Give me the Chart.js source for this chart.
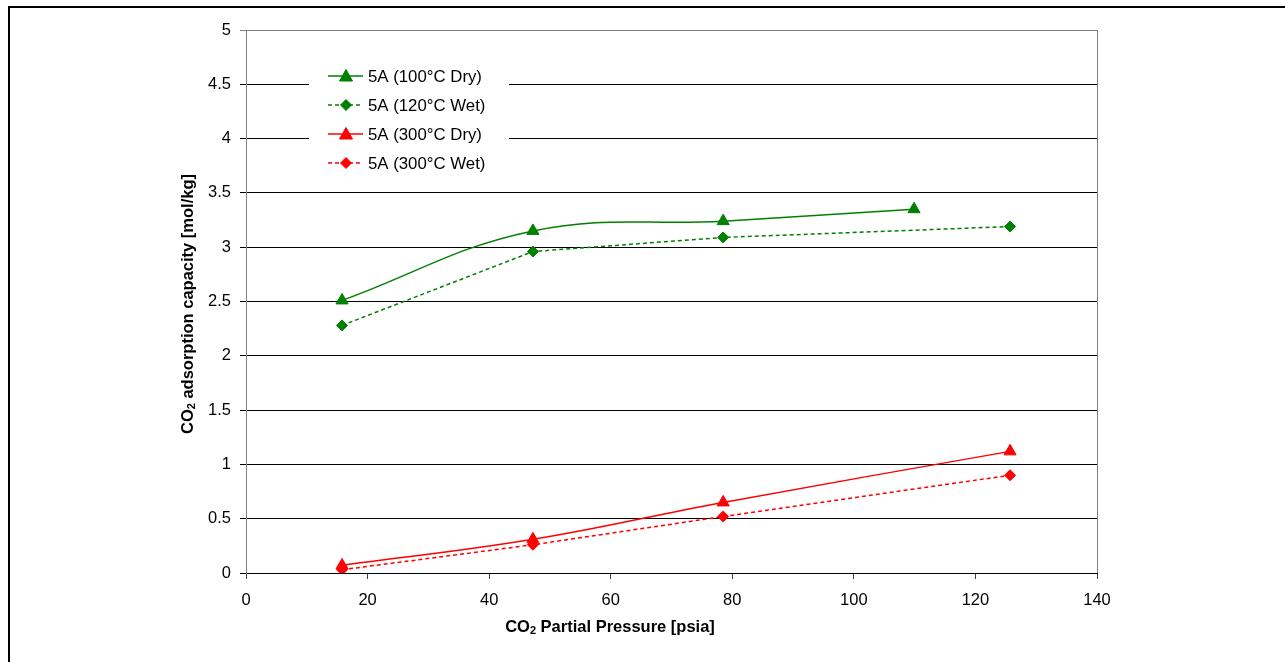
<!DOCTYPE html>
<html>
<head>
<meta charset="utf-8">
<script src="https://cdn.jsdelivr.net/npm/chart.js@4.4.1/dist/chart.umd.min.js"></script>
<style>
  body { margin: 0; background: #fff; }
  #frame { position: absolute; left: 8px; top: 6px; width: 1300px; height: 700px;
           border-left: 2px solid #000; border-top: 2px solid #000; }
  #mychart { position: absolute; left: 0; top: 0; }
</style>
</head>
<body>
<div id="frame"></div>
<canvas id="mychart" width="1285" height="662"></canvas>
<script>
// series labels
var seriesLabels = ['5A (100°C Dry)', '5A (120°C Wet)', '5A (300°C Dry)', '5A (300°C Wet)'];

// CO2 partial pressure [psia]
var pressureDry100 = [15.8, 47.2, 78.5, 109.9];
var pressureWet120 = [15.8, 47.2, 78.5, 125.7];
var pressure300 = [15.8, 47.2, 78.5, 125.7];

// CO2 adsorption capacity [mol/kg]
var capDry100 = [2.51, 3.15, 3.24, 3.35];
var capWet120 = [2.28, 2.96, 3.09, 3.19];
var capDry300 = [0.07, 0.31, 0.65, 1.12];
var capWet300 = [0.03, 0.26, 0.52, 0.90];

var xTitle = ['CO', '2', ' Partial Pressure [psia]'];
var yTitle = ['CO', '2', ' adsorption capacity [mol/kg]'];

var FONT = "'Liberation Sans', Arial, sans-serif";

function toPoints(xs, ys) {
    return xs.map(function(x, i) { return { x: x, y: ys[i] }; });
}

function makeSet(label, xs, ys, color, dashed, shape) {
    return {
        label: label,
        data: toPoints(xs, ys),
        borderColor: color,
        backgroundColor: color,
        borderWidth: 1.5,
        borderDash: dashed ? [4, 3] : [],
        pointStyle: shape,
        pointRadius: shape === 'triangle' ? 7 : 5.5,
        pointBorderWidth: 1,
        tension: dashed ? 0 : 0.4   // dry curves are smoothed, wet ones straight
    };
}

// draw text with a subscript part: [before, sub, after]
function drawSubText(ctx, parts, cx, cy) {
    var big = 'bold 16.5px ' + FONT;
    var small = 'bold 11px ' + FONT;
    ctx.font = big;
    var w1 = ctx.measureText(parts[0]).width;
    var w3 = ctx.measureText(parts[2]).width;
    ctx.font = small;
    var w2 = ctx.measureText(parts[1]).width;
    var x = cx - (w1 + w2 + w3) / 2;
    ctx.textAlign = 'left';
    ctx.textBaseline = 'middle';
    ctx.fillStyle = '#000';
    ctx.font = big;
    ctx.fillText(parts[0], x, cy);
    ctx.font = small;
    ctx.fillText(parts[1], x + w1, cy + 4);
    ctx.font = big;
    ctx.fillText(parts[2], x + w1 + w2, cy);
}

function drawMarker(ctx, shape, x, y, color) {
    ctx.save();
    ctx.fillStyle = color;
    ctx.strokeStyle = color;
    ctx.lineWidth = 1;
    ctx.setLineDash([]);
    ctx.beginPath();
    if (shape === 'triangle') {
        ctx.moveTo(x, y - 6.5);
        ctx.lineTo(x + 6.5, y + 5);
        ctx.lineTo(x - 6.5, y + 5);
    } else {
        ctx.moveTo(x - 5.5, y);
        ctx.lineTo(x, y - 5.5);
        ctx.lineTo(x + 5.5, y);
        ctx.lineTo(x, y + 5.5);
    }
    ctx.closePath();
    ctx.fill();
    ctx.stroke();
    ctx.restore();
}

var extras = {
    id: 'extras',
    beforeDatasetsDraw: function(chart) {
        // grey right edge of the plot area
        var a = chart.chartArea;
        var ctx = chart.ctx;
        ctx.save();
        ctx.strokeStyle = '#808080';
        ctx.lineWidth = 1;
        ctx.beginPath();
        ctx.moveTo(Math.round(a.right) + 0.5, a.top);
        ctx.lineTo(Math.round(a.right) + 0.5, a.bottom);
        ctx.stroke();
        ctx.restore();
    },
    afterDraw: function(chart) {
        var ctx = chart.ctx;
        ctx.save();
        // legend box
        ctx.fillStyle = '#fff';
        ctx.fillRect(309, 60, 200, 118);
        chart.data.datasets.forEach(function(ds, i) {
            var y = 76 + i * 29;
            ctx.strokeStyle = ds.borderColor;
            ctx.lineWidth = 1.5;
            ctx.setLineDash(ds.borderDash);
            ctx.beginPath();
            ctx.moveTo(328, y);
            ctx.lineTo(363, y);
            ctx.stroke();
            drawMarker(ctx, ds.pointStyle, 346, y, ds.borderColor);
            ctx.fillStyle = '#000';
            ctx.font = '16.8px ' + FONT;
            ctx.textAlign = 'left';
            ctx.textBaseline = 'middle';
            ctx.fillText(ds.label, 368, y + 1);
        });
        // axis titles
        drawSubText(ctx, xTitle, 610, 627);
        ctx.translate(188, 304);
        ctx.rotate(-Math.PI / 2);
        drawSubText(ctx, yTitle, 0, 0);
        ctx.restore();
    }
};

document.addEventListener("DOMContentLoaded", function() {
    var mychart = document.getElementById('mychart').getContext('2d');

    new Chart(mychart, {
        type: 'line',
        data: {
            datasets: [
                makeSet(seriesLabels[0], pressureDry100, capDry100, '#008000', false, 'triangle'),
                makeSet(seriesLabels[1], pressureWet120, capWet120, '#008000', true, 'rectRot'),
                makeSet(seriesLabels[2], pressure300, capDry300, '#ff0000', false, 'triangle'),
                makeSet(seriesLabels[3], pressure300, capWet300, '#ff0000', true, 'rectRot')
            ]
        },
        options: {
            responsive: false,
            animation: false,
            devicePixelRatio: 1,
            layout: { padding: { left: 0, top: 30, right: 188, bottom: 0 } },
            plugins: {
                legend: { display: false },
                tooltip: { enabled: false }
            },
            scales: {
                x: {
                    type: 'linear',
                    min: 0,
                    max: 140,
                    afterFit: function(scale) { scale.height = 89; },
                    ticks: {
                        stepSize: 20,
                        padding: 12,
                        color: '#000',
                        font: { family: FONT, size: 16.5 }
                    },
                    grid: {
                        drawOnChartArea: false,
                        drawTicks: true,
                        tickLength: 6,
                        color: '#404040'
                    },
                    border: { color: '#000', width: 1 }
                },
                y: {
                    min: 0,
                    max: 5,
                    afterFit: function(scale) { scale.width = 246; },
                    ticks: {
                        stepSize: 0.5,
                        padding: 9,
                        color: '#000',
                        font: { family: FONT, size: 16.5 },
                        callback: function(v) { return String(v); }
                    },
                    grid: {
                        tickLength: 6,
                        color: function(c) { return c.tick && c.tick.value === 5 ? '#808080' : '#000'; }
                    },
                    border: { color: '#808080', width: 1 }
                }
            }
        },
        plugins: [extras]
    });
});
</script>
</body>
</html>
